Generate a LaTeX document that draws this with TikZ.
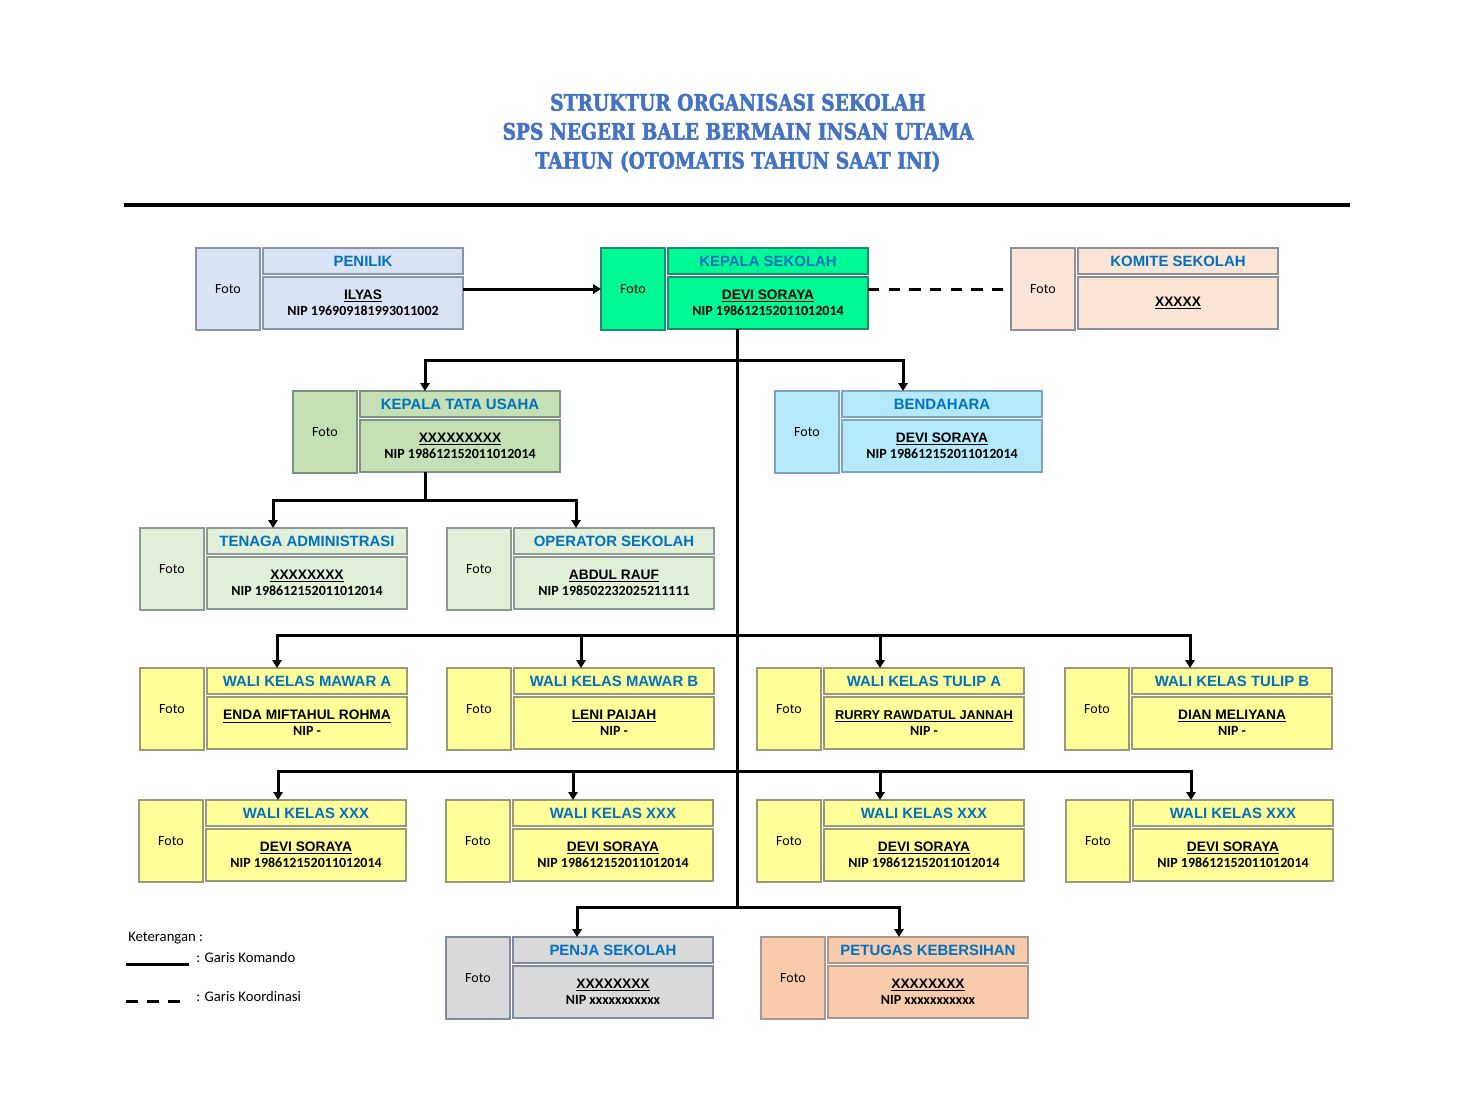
\documentclass[tikz,border=0pt]{standalone}
\usepackage{fontspec}
\setmainfont{Liberation Sans}
\newfontfamily\carlito{Carlito}
\newfontfamily\titlefont[FakeStretch=0.82,FakeBold=2]{DejaVu Serif}
\usetikzlibrary{arrows.meta,calc}

\definecolor{hdr}{HTML}{0070C0}
\definecolor{ttl}{HTML}{4472C4}
\definecolor{fPen}{HTML}{DAE3F3}\definecolor{dPen}{HTML}{8A95A8}
\definecolor{fKs}{HTML}{00F994}\definecolor{dKs}{HTML}{1F8A6C}
\definecolor{fKom}{HTML}{FBE5D6}\definecolor{dKom}{HTML}{8E8E96}
\definecolor{fKtu}{HTML}{C5E0B4}\definecolor{dKtu}{HTML}{7F927F}
\definecolor{fBen}{HTML}{B4E9FB}\definecolor{dBen}{HTML}{7FA4C0}
\definecolor{fAdm}{HTML}{E2F0D9}\definecolor{dAdm}{HTML}{8E9A96}
\definecolor{fWal}{HTML}{FFFF99}\definecolor{dWal}{HTML}{9A9A78}
\definecolor{fPnj}{HTML}{D9D9D9}\definecolor{dPnj}{HTML}{7F8B9E}
\definecolor{fPet}{HTML}{F8CBAD}\definecolor{dPet}{HTML}{A89890}

\newcommand\nm[1]{{\fontsize{10.3}{12}\selectfont\bfseries\underline{#1}}}
\newcommand\nipl[1]{{\carlito\fontsize{10.5}{12}\selectfont\bfseries #1}}

\tikzset{
  unitbox/.style={line width=1.4pt, inner sep=0pt, outer sep=0pt, anchor=north west},
  fotobox/.style={unitbox, minimum width=48pt, minimum height=61.5pt, font=\carlito\fontsize{10.5}{12}\selectfont},
  headbox/.style={unitbox, minimum width=150pt, minimum height=19.5pt, text=hdr, font=\fontsize{11.2}{13}\selectfont\bfseries},
  bodybox/.style={unitbox, minimum width=150pt, minimum height=39pt, align=center, font=\fontsize{10}{12}\selectfont},
  cmd/.style={line width=2.25pt, black},
  cmdarrow/.style={cmd, -{Triangle[width=7pt,length=6pt]}},
  coord/.style={line width=2.25pt, black, dash pattern=on 8.5pt off 7pt},
  legtext/.style={anchor=west, inner sep=0pt, font=\carlito\fontsize{11}{13}\selectfont},
}

% id, x, y, arrow x, fill, draw, title, body
\newcommand\orgunit[8]{%
  \node[fotobox, fill=#5, draw=#6] (#1-foto) at (#2,#3) {Foto};
  \node[headbox, fill=#5, draw=#6] (#1-head) at ({#2+67},#3) {#7};
  \node[bodybox, fill=#5, draw=#6] (#1-body) at ({#2+67},{#3+29}) {#8};
  \coordinate (#1-in) at (#4,#3);
  \coordinate (#1-out) at (#4,{#3+81});
}

\begin{document}
\begin{tikzpicture}[x=0.75pt,y=-0.75pt]
\useasboundingbox[fill=white] (0,0) rectangle (1462,1092);

% title
\node[align=center, text=ttl, font=\titlefont\fontsize{17}{21.75}\selectfont\bfseries] (title) at (738,133)
  {STRUKTUR ORGANISASI SEKOLAH\\SPS NEGERI BALE BERMAIN INSAN UTAMA\\TAHUN (OTOMATIS TAHUN SAAT INI)};
\coordinate (ruleL) at (124,205);
\coordinate (ruleR) at (1350,205);
\draw[line width=3pt] (ruleL) -- (ruleR);

% row 1
\orgunit{pen}{196}{248}{228}{fPen}{dPen}{PENILIK}{\nm{ILYAS}\\\nipl{NIP 196909181993011002}}
\orgunit{ks}{601}{248}{737}{fKs}{dKs}{KEPALA SEKOLAH}{\nm{DEVI SORAYA}\\\nipl{NIP 198612152011012014}}
\orgunit{kom}{1011}{248}{1144}{fKom}{dKom}{KOMITE SEKOLAH}{\nm{XXXXX}}
% row 2
\orgunit{ktu}{293}{391}{425}{fKtu}{dKtu}{KEPALA TATA USAHA}{\nm{XXXXXXXXX}\\\nipl{NIP 198612152011012014}}
\orgunit{ben}{775}{391}{903}{fBen}{dBen}{BENDAHARA}{\nm{DEVI SORAYA}\\\nipl{NIP 198612152011012014}}
% row 3
\orgunit{adm}{140}{528}{273}{fAdm}{dAdm}{TENAGA ADMINISTRASI}{\nm{XXXXXXXX}\\\nipl{NIP 198612152011012014}}
\orgunit{op}{447}{528}{576}{fAdm}{dAdm}{OPERATOR SEKOLAH}{\nm{ABDUL RAUF}\\\nipl{NIP 198502232025211111}}
% row 4
\orgunit{wa}{140}{668}{277}{fWal}{dWal}{WALI KELAS MAWAR A}{\nm{ENDA MIFTAHUL ROHMA}\\\nipl{NIP -}}
\orgunit{wb}{447}{668}{581}{fWal}{dWal}{WALI KELAS MAWAR B}{\nm{LENI PAIJAH}\\\nipl{NIP -}}
\orgunit{wc}{757}{668}{880}{fWal}{dWal}{WALI KELAS TULIP A}{{\fontsize{9.6}{12}\selectfont\bfseries\underline{RURRY RAWDATUL JANNAH}}\\\nipl{NIP -}}
\orgunit{wd}{1065}{668}{1190}{fWal}{dWal}{WALI KELAS TULIP B}{\nm{DIAN MELIYANA}\\\nipl{NIP -}}
% row 5
\orgunit{xa}{139}{800}{278}{fWal}{dWal}{WALI KELAS XXX}{\nm{DEVI SORAYA}\\\nipl{NIP 198612152011012014}}
\orgunit{xb}{446}{800}{573}{fWal}{dWal}{WALI KELAS XXX}{\nm{DEVI SORAYA}\\\nipl{NIP 198612152011012014}}
\orgunit{xc}{757}{800}{880}{fWal}{dWal}{WALI KELAS XXX}{\nm{DEVI SORAYA}\\\nipl{NIP 198612152011012014}}
\orgunit{xd}{1066}{800}{1191}{fWal}{dWal}{WALI KELAS XXX}{\nm{DEVI SORAYA}\\\nipl{NIP 198612152011012014}}
% row 6
\orgunit{pj}{446}{937}{577}{fPnj}{dPnj}{PENJA SEKOLAH}{\nm{XXXXXXXX}\\\nipl{NIP xxxxxxxxxxx}}
\orgunit{pt}{761}{937}{899}{fPet}{dPet}{PETUGAS KEBERSIHAN}{\nm{XXXXXXXX}\\\nipl{NIP xxxxxxxxxxx}}

% connectors
\draw[cmdarrow] (pen-body.east |- pen-foto.east) -- (ks-foto.west);
\draw[coord] (ks-body.east |- ks-foto.east) -- (kom-foto.west);

\coordinate (b1) at (737,360);
\coordinate (b3) at (737,635);
\coordinate (b4) at (737,771);
\coordinate (b5) at (737,907);
\coordinate (kb) at (425,500);

\draw[cmd] (ks-body.south -| b1) -- (b5);
\draw[cmdarrow] (b1) -| (ktu-in);
\draw[cmdarrow] (b1) -| (ben-in);
\draw[cmd] (ktu-out) -- (kb);
\draw[cmdarrow] (kb) -| (adm-in);
\draw[cmdarrow] (kb) -| (op-in);
\draw[cmdarrow] (b3) -| (wa-in);
\draw[cmdarrow] (b3) -| (wb-in);
\draw[cmdarrow] (b3) -| (wc-in);
\draw[cmdarrow] (b3) -| (wd-in);
\draw[cmdarrow] (b4) -| (xa-in);
\draw[cmdarrow] (b4) -| (xb-in);
\draw[cmdarrow] (b4) -| (xc-in);
\draw[cmdarrow] (b4) -| (xd-in);
\draw[cmdarrow] (b5) -| (pj-in);
\draw[cmdarrow] (b5) -| (pt-in);

% legend
\node[legtext] (ket) at (128,938) {Keterangan :};
\coordinate (l1a) at (126,964);
\coordinate (l1b) at (189,964);
\draw[line width=2.25pt] (l1a) -- (l1b);
\node[legtext] (lk1) at (196,957) {: Garis Komando};
\coordinate (l2a) at (126,1001);
\coordinate (l2b) at (181,1001);
\draw[line width=2.25pt, dash pattern=on 9pt off 6.75pt] (l2a) -- (l2b);
\node[legtext] (lk2) at (196,996) {: Garis Koordinasi};
\end{tikzpicture}
\end{document}
